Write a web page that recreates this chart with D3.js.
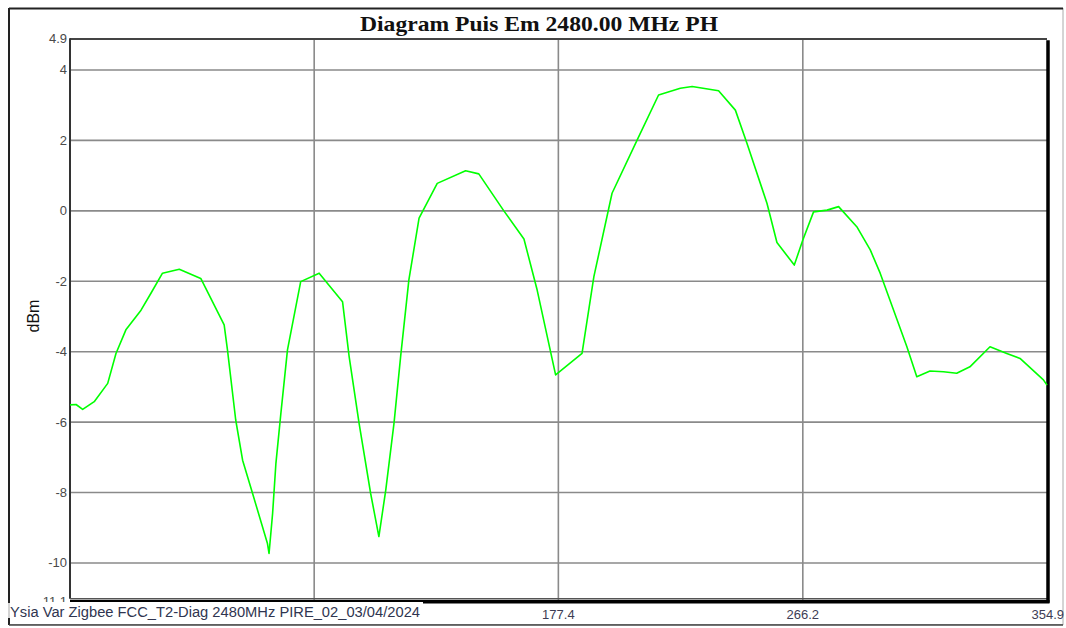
<!DOCTYPE html>
<html>
<head>
<meta charset="utf-8">
<script src="https://cdn.jsdelivr.net/npm/d3@7"></script>
<style>
html,body{margin:0;padding:0;background:#fff;}
svg{display:block;}
</style>
</head>
<body>
<svg id="chart" width="1066" height="628"></svg>
<script>
const title = "Diagram Puis Em 2480.00 MHz PH";
const footer = "Ysia Var Zigbee FCC_T2-Diag 2480MHz PIRE_02_03/04/2024";
const yLabel = "dBm";
const xTickLabels = [177.4, 266.2, 354.9];
const yTicks = [4.9, 4, 2, 0, -2, -4, -6, -8, -10, -11.1];
const yGrid = [4, 2, 0, -2, -4, -6, -8, -10];
const xGrid = [88.7, 177.4, 266.2];
const angles = [0, 2.2, 4.6, 8.8, 13.7, 16.7, 20.3, 25.8, 29.4, 33.6, 39.7, 47.5, 56.0, 57.2, 60.2, 62.7, 66.3, 71.7, 72.3, 73.6, 74.8, 76.6, 79.0, 83.8, 90.5, 99.0, 101.4, 105.0, 109.2, 112.2, 114.7, 117.7, 120.1, 123.1, 126.8, 133.4, 143.7, 148.5, 157.6, 164.9, 169.7, 176.4, 186.0, 190.3, 196.9, 206.0, 213.8, 221.7, 226.0, 235.6, 241.7, 245.9, 253.2, 256.8, 263.1, 266.2, 270.1, 275.0, 279.2, 285.8, 290.7, 294.3, 304.0, 307.6, 312.4, 317.3, 322.1, 326.9, 334.2, 340.3, 345.1, 353.6, 354.9];
const power = [-5.51, -5.5, -5.64, -5.42, -4.9, -4.05, -3.38, -2.82, -2.34, -1.77, -1.66, -1.92, -3.24, -3.95, -5.94, -7.08, -8.02, -9.44, -9.73, -8.59, -7.17, -5.75, -3.95, -2.01, -1.77, -2.58, -4.14, -6.03, -8.02, -9.25, -7.93, -6.03, -4.14, -1.96, -0.21, 0.78, 1.14, 1.05, 0.0, -0.80, -2.25, -4.66, -4.05, -1.87, 0.5, 2.01, 3.29, 3.48, 3.53, 3.41, 2.86, 1.92, 0.21, -0.90, -1.54, -0.83, -0.03, 0.02, 0.12, -0.45, -1.11, -1.77, -3.86, -4.71, -4.55, -4.57, -4.61, -4.43, -3.86, -4.05, -4.19, -4.80, -4.95];

const svg = d3.select("#chart");
const L = 70, R = 1047, T = 38.3, B = 601.7;
const x = d3.scaleLinear().domain([0, 354.9]).range([L, R]);
const y = d3.scaleLinear().domain([-11.1, 4.9]).range([B, T]);

// outer frame
svg.append("rect").attr("x", 9).attr("y", 8.5).attr("width", 1054).attr("height", 616)
  .attr("fill", "#fff").attr("stroke", "#aaa").attr("stroke-width", 1);
svg.append("line").attr("x1", 9).attr("x2", 1063).attr("y1", 8.5).attr("y2", 8.5).attr("stroke", "#222").attr("stroke-width", 2);
svg.append("line").attr("x1", 9).attr("x2", 9).attr("y1", 8).attr("y2", 603).attr("stroke", "#222").attr("stroke-width", 2);
svg.append("line").attr("x1", 9).attr("x2", 9).attr("y1", 618).attr("y2", 625).attr("stroke", "#222").attr("stroke-width", 2);
svg.append("line").attr("x1", 9).attr("x2", 1063).attr("y1", 625).attr("y2", 625).attr("stroke", "#444").attr("stroke-width", 1.5);

// title
svg.append("text").attr("x", 539).attr("y", 31).attr("text-anchor", "middle")
  .attr("font-family", "Liberation Serif, Times New Roman, serif").attr("font-weight", "bold")
  .attr("font-size", 21).attr("textLength", 358).attr("lengthAdjust", "spacingAndGlyphs")
  .attr("fill", "#111").text(title);

// grid
const g = svg.append("g");
g.selectAll(".hg").data(yGrid).join("line")
  .attr("x1", L).attr("x2", R).attr("y1", d => y(d)).attr("y2", d => y(d))
  .attr("stroke", "#8a8a8a").attr("stroke-width", 1.6);
g.selectAll(".vg").data(xGrid).join("line")
  .attr("y1", T).attr("y2", B).attr("x1", d => x(d)).attr("x2", d => x(d))
  .attr("stroke", "#8a8a8a").attr("stroke-width", 1.6);

// plot frame
svg.append("line").attr("x1", L).attr("x2", R).attr("y1", T + 0.7).attr("y2", T + 0.7).attr("stroke", "#444").attr("stroke-width", 2);
svg.append("line").attr("x1", L).attr("x2", L).attr("y1", T).attr("y2", B - 3).attr("stroke", "#333").attr("stroke-width", 2);
svg.append("line").attr("x1", L).attr("x2", R).attr("y1", B - 3).attr("y2", B - 3).attr("stroke", "#555").attr("stroke-width", 1.5);
svg.append("line").attr("x1", R + 1).attr("x2", R + 1).attr("y1", T + 2).attr("y2", B + 1).attr("stroke", "#000").attr("stroke-width", 3.5);
svg.append("line").attr("x1", L).attr("x2", R + 2.5).attr("y1", B).attr("y2", B).attr("stroke", "#000").attr("stroke-width", 3.5);

// line
const line = d3.line().x((d, i) => x(angles[i])).y(d => y(d));
svg.append("path").datum(power).attr("d", line)
  .attr("fill", "none").attr("stroke", "#00ff00").attr("stroke-width", 1.6).attr("stroke-linejoin", "round");

// y ticks
svg.selectAll(".yt").data(yTicks).join("text")
  .attr("x", L - 3).attr("y", d => y(d) + 4.5).attr("text-anchor", "end")
  .attr("font-family", "Liberation Sans, Arial, sans-serif").attr("font-size", 13)
  .attr("fill", "#4a4a4a").text(d => d);

// x tick labels (the 0 and 88.7 labels are hidden under the footer in the reference)
svg.selectAll(".xt").data(xTickLabels).join("text")
  .attr("x", (d, i) => i === xTickLabels.length - 1 ? x(d) + 17 : x(d))
  .attr("y", 619)
  .attr("text-anchor", (d, i) => i === xTickLabels.length - 1 ? "end" : "middle")
  .attr("font-family", "Liberation Sans, Arial, sans-serif").attr("font-size", 13)
  .attr("fill", "#3d3d55").text(d => d);

// y label
svg.append("text").attr("transform", "translate(39,316) rotate(-90)")
  .attr("text-anchor", "middle").attr("font-family", "Liberation Sans, Arial, sans-serif")
  .attr("font-size", 16).attr("fill", "#111").text(yLabel);

// footer box
svg.append("rect").attr("x", 10).attr("y", 602).attr("width", 413).attr("height", 20).attr("fill", "#fff");
svg.append("text").attr("x", 10).attr("y", 617)
  .attr("font-family", "Liberation Sans, Arial, sans-serif").attr("font-size", 14)
  .attr("textLength", 410).attr("lengthAdjust", "spacingAndGlyphs")
  .attr("fill", "#2f3550").text(footer);
</script>
</body>
</html>
